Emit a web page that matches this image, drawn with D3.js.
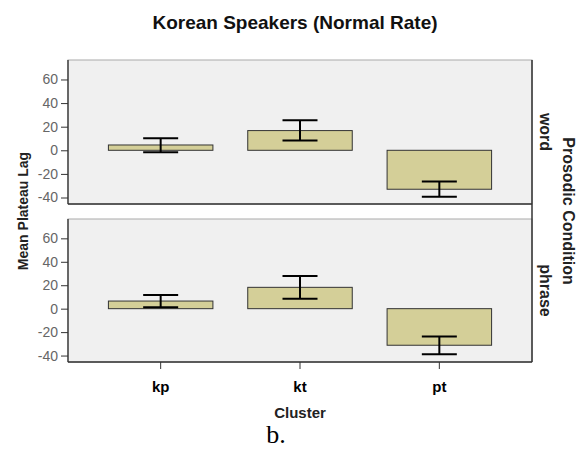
<!DOCTYPE html>
<html><head><meta charset="utf-8">
<script src="https://cdn.jsdelivr.net/npm/d3@7"></script>
<style>body{margin:0;background:#fff}svg{display:block;font-family:"Liberation Sans",Arial,sans-serif}</style>
</head><body><svg id="c" width="587" height="450"></svg>
<script>
const clusters = ["kp", "kt", "pt"];
const conditions = ["word", "phrase"];
const wordMeans = [4.5, 16.7, -33.0];
const wordLow = [-1.7, 8.2, -39.4];
const wordHigh = [10.2, 25.5, -26.4];
const phraseMeans = [6.5, 18.2, -31.2];
const phraseLow = [1.2, 8.5, -38.8];
const phraseHigh = [11.7, 27.8, -23.8];
const yTicks = [-40, -20, 0, 20, 40, 60];

const series = {
  word: {means: wordMeans, low: wordLow, high: wordHigh},
  phrase: {means: phraseMeans, low: phraseLow, high: phraseHigh}
};

const svg = d3.select("#c");
const L = 68, R = 532;
const panels = [{cond: conditions[0], top: 60, bottom: 204}, {cond: conditions[1], top: 219, bottom: 362}];

const x = d3.scaleBand().domain(clusters).range([L, R]).paddingInner(0.25).paddingOuter(0.29);

svg.append("text").attr("x", 295).attr("y", 29).attr("text-anchor", "middle")
  .attr("font-size", 19).attr("font-weight", "bold").attr("fill", "#111")
  .text("Korean Speakers (Normal Rate)");

panels.forEach(p => {
  const d = series[p.cond];
  const y = d3.scaleLinear().domain([-45.5, 76.5]).range([p.bottom, p.top]);
  const g = svg.append("g");
  g.append("rect").attr("x", L).attr("y", p.top).attr("width", R - L).attr("height", p.bottom - p.top)
    .attr("fill", "#f0f0f0").attr("stroke", "#aaa");
  // bars
  g.selectAll("rect.bar").data(clusters).join("rect").attr("class", "bar")
    .attr("x", c => x(c))
    .attr("width", x.bandwidth())
    .attr("y", (c, i) => y(Math.max(0, d.means[i])))
    .attr("height", (c, i) => Math.abs(y(d.means[i]) - y(0)))
    .attr("fill", "#d4cf98").attr("stroke", "#333").attr("stroke-width", 1);
  // error bars
  const cx = c => x(c) + x.bandwidth() / 2;
  const cap = 17.5;
  const eb = g.selectAll("g.eb").data(clusters).join("g").attr("class", "eb")
    .attr("stroke", "#000").attr("stroke-width", 2);
  eb.append("line").attr("x1", cx).attr("x2", cx)
    .attr("y1", (c, i) => y(d.low[i])).attr("y2", (c, i) => y(d.high[i]));
  eb.append("line").attr("x1", c => cx(c) - cap).attr("x2", c => cx(c) + cap)
    .attr("y1", (c, i) => y(d.low[i])).attr("y2", (c, i) => y(d.low[i]));
  eb.append("line").attr("x1", c => cx(c) - cap).attr("x2", c => cx(c) + cap)
    .attr("y1", (c, i) => y(d.high[i])).attr("y2", (c, i) => y(d.high[i]));
  // y axis
  const ax = g.append("g").attr("transform", `translate(${L},0)`)
    .call(d3.axisLeft(y).tickValues(yTicks).tickFormat(v => String(v)).tickSize(7).tickPadding(3));
  ax.select(".domain").attr("stroke", "#444").attr("stroke-width", 1.5)
    .attr("d", `M0,${p.top}V${p.bottom}`);
  ax.selectAll(".tick line").attr("stroke", "#333");
  ax.selectAll(".tick text").attr("font-size", 14).attr("fill", "#666")
    .attr("font-family", "Liberation Sans, Arial, sans-serif");
  // bottom line
  g.append("line").attr("x1", L).attr("x2", R).attr("y1", p.bottom).attr("y2", p.bottom)
    .attr("stroke", "#333").attr("stroke-width", 1.5);
  // strip label
  const sy = (p.top + p.bottom) / 2;
  g.append("text").attr("transform", `translate(540,${sy}) rotate(90)`)
    .attr("text-anchor", "middle").attr("font-size", 16).attr("font-weight", "bold").attr("fill", "#222")
    .text(p.cond);
});

// right strip line
svg.append("line").attr("x1", R).attr("x2", R).attr("y1", 60).attr("y2", 362)
  .attr("stroke", "#333").attr("stroke-width", 1.5);

// x axis
const xa = svg.append("g").attr("transform", "translate(0,362)")
  .call(d3.axisBottom(x).tickSize(7).tickPadding(12));
xa.select(".domain").remove();
xa.selectAll(".tick line").attr("stroke", "#333");
xa.selectAll(".tick text").attr("font-size", 15).attr("font-weight", "bold").attr("fill", "#000")
  .attr("font-family", "Liberation Sans, Arial, sans-serif");

svg.append("text").attr("x", 300).attr("y", 418).attr("text-anchor", "middle")
  .attr("font-size", 15).attr("font-weight", "bold").attr("fill", "#222").text("Cluster");

svg.append("text").attr("transform", "translate(28,211) rotate(-90)").attr("text-anchor", "middle")
  .attr("font-size", 14).attr("font-weight", "bold").attr("fill", "#222").text("Mean Plateau Lag");

svg.append("text").attr("transform", "translate(563,211) rotate(90)").attr("text-anchor", "middle")
  .attr("font-size", 16).attr("font-weight", "bold").attr("fill", "#222").text("Prosodic Condition");

svg.append("text").attr("x", 276).attr("y", 443).attr("text-anchor", "middle")
  .attr("font-size", 26).attr("font-family", "Liberation Serif, Times New Roman, serif").attr("fill", "#000")
  .text("b.");
</script></body></html>
